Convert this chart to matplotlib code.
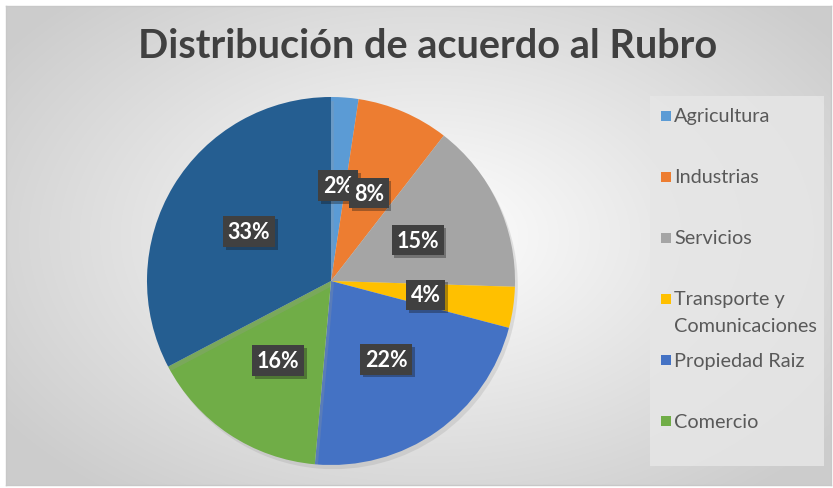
import matplotlib.pyplot as plt
import matplotlib.patheffects as pe
from matplotlib.patches import Rectangle
import numpy as np

categories = ["Agricultura", "Industrias", "Servicios", "Transporte y\nComunicaciones",
              "Propiedad Raiz", "Comercio", "Otros"]
shares = [2.4, 8.1, 15.0, 3.6, 22.3, 15.9, 32.7]
shown_labels = ["2%", "8%", "15%", "4%", "22%", "16%", "33%"]
colors = ["#5B9BD5", "#ED7D31", "#A5A5A5", "#FFC000", "#4472C4", "#70AD47", "#255E91"]
# the original legend only lists the first six categories
legend_count = 6

W, H = 833, 489
fig = plt.figure(figsize=(W / 100, H / 100), dpi=100, facecolor="white")

# chart area background with a soft radial gradient
bg = fig.add_axes([6 / W, 1 - 486 / H, 825 / W, 479 / H])
yy, xx = np.mgrid[0:479, 0:825]
dist = np.sqrt(((xx - 420) / 520) ** 2 + ((yy - 230) / 330) ** 2)
shade = np.clip(1.0 - 0.2 * dist, 0.80, 1.0)
bg.imshow(np.dstack([shade] * 3), aspect="auto", extent=(0, 825, 479, 0))
bg.set_xticks([])
bg.set_yticks([])
for spine in bg.spines.values():
    spine.set_color("#c8c8c8")
    spine.set_linewidth(1.0)

# legend box
fig.patches.append(Rectangle((650 / W, 1 - 467 / H), 174 / W, 370 / H,
                             transform=fig.transFigure, facecolor="#e6e6e6",
                             edgecolor="none", alpha=0.85, zorder=2))

cx, cy, r = 331, 282, 184
ax = fig.add_axes([(cx - r) / W, 1 - (cy + r) / H, 2 * r / W, 2 * r / H])
ax.set_facecolor("none")
wedges, _ = ax.pie(shares, colors=colors, startangle=90, counterclock=False,
                   wedgeprops=dict(linewidth=0))
for w in wedges:
    w.set_path_effects([pe.SimplePatchShadow(offset=(2, -3), shadow_rgbFace="#9a9a9a", alpha=0.25),
                        pe.Normal()])
ax.set_xlim(-1, 1)
ax.set_ylim(-1, 1)

angle = 90.0
for value, text in zip(shares, shown_labels):
    mid = np.deg2rad(angle - value * 3.6 / 2)
    angle -= value * 3.6
    t = ax.text(0.52 * np.cos(mid), 0.52 * np.sin(mid), text, ha="center", va="center",
                color="white", fontsize=15.5, fontweight="bold", family=["Lato", "DejaVu Sans"],
                bbox=dict(boxstyle="square,pad=0.22", facecolor="#404040", edgecolor="none"))
    t.get_bbox_patch().set_path_effects([pe.SimplePatchShadow(offset=(2, -2), alpha=0.35),
                                         pe.Normal()])

fig.text(428 / W, 1 - 47 / H, "Distribución de acuerdo al Rubro", ha="center", va="center",
         fontsize=28.5, fontweight="bold", color="#404040", family=["Lato", "DejaVu Sans"])

legend_y = [117 + 61 * i for i in range(legend_count)]
for name, color, y in zip(categories[:legend_count], colors[:legend_count], legend_y):
    fig.patches.append(Rectangle((661 / W, 1 - (y + 5) / H), 10 / W, 10 / H,
                                 transform=fig.transFigure, facecolor=color,
                                 edgecolor="none", zorder=3))
    first, *rest = name.split("\n")
    fig.text(674 / W, 1 - y / H, first, ha="left", va="center", fontsize=14.3,
             color="#595959", family=["Lato", "DejaVu Sans"])
    for k, line in enumerate(rest, start=1):
        fig.text(674 / W, 1 - (y + 27 * k) / H, line, ha="left", va="center", fontsize=14.3,
                 color="#595959", family=["Lato", "DejaVu Sans"])

fig.savefig("out.png", dpi=100)
